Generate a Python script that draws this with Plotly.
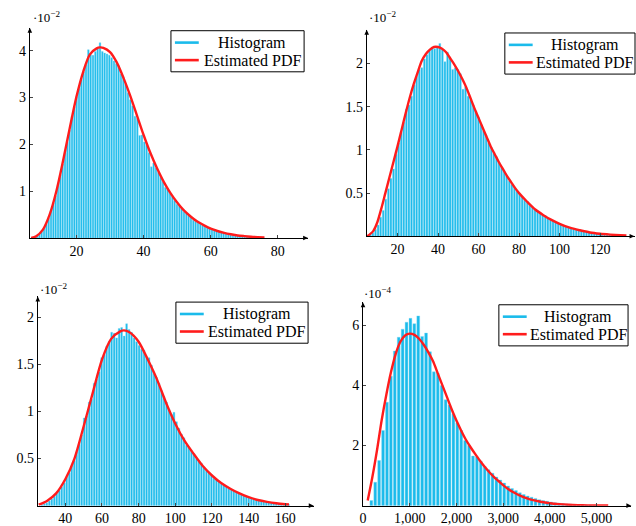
import plotly.graph_objects as go

# ---------------- data ----------------
# Panel 1  (density in units of 1e-2)
h1_start, h1_width = 6.85, 0.695
h1_counts = [0.01, 0.02, 0.05, 0.08, 0.13, 0.2, 0.3, 0.42, 0.58, 0.75,
             0.9, 1.12, 1.35, 1.58, 1.82, 2.05, 2.3, 2.6, 2.8, 3.02,
             3.2, 3.38, 3.55, 3.7, 4.02, 3.92, 3.9, 3.98, 4.05, 4.17,
             3.98, 3.95, 3.93, 3.9, 3.85, 3.78, 3.72, 3.68, 3.5, 3.44,
             3.28, 3.1, 2.95, 2.82, 2.6, 2.55, 2.19, 2.2, 2.05, 1.98,
             1.82, 1.52, 1.6, 1.5, 1.4, 1.3, 1.2, 1.08, 1.05, 0.95,
             0.88, 0.8, 0.72, 0.68, 0.62, 0.56, 0.52, 0.47, 0.44, 0.38,
             0.35, 0.32, 0.3, 0.27, 0.25, 0.22, 0.2, 0.18, 0.16, 0.15,
             0.13, 0.12, 0.11, 0.1, 0.09, 0.08, 0.07, 0.06, 0.055, 0.05,
             0.045, 0.04, 0.035, 0.03, 0.027, 0.024, 0.02, 0.018, 0.015, 0.012]
pdf1_x = [6.5, 8, 10, 12, 14, 16, 18, 20, 22, 24, 26, 27, 28, 30, 32, 34, 36, 38, 40,
          42, 44, 46, 48, 50, 52, 54, 56, 58, 60, 62, 64, 66, 68, 70, 72, 74, 76]
pdf1_y = [0.0, 0.04, 0.18, 0.5, 1.0, 1.65, 2.35, 3.02, 3.55, 3.92, 4.05, 4.07, 4.06, 3.97,
          3.75, 3.42, 3.04, 2.62, 2.2, 1.82, 1.49, 1.2, 0.96, 0.76, 0.59, 0.46, 0.35, 0.27,
          0.2, 0.15, 0.11, 0.08, 0.055, 0.04, 0.028, 0.02, 0.014]

# Panel 2  (units of 1e-2)
h2_start, h2_width = 6.6, 1.27
h2_counts = [0.02, 0.04, 0.08, 0.13, 0.22, 0.3, 0.43, 0.55, 0.67, 0.78,
             0.95, 1.08, 1.2, 1.32, 1.47, 1.52, 1.62, 1.75, 1.85, 1.93,
             1.95, 2.05, 2.1, 2.15, 2.17, 2.17, 2.19, 2.23, 2.16, 2.02,
             2.13, 2.05, 1.93, 1.95, 1.93, 1.88, 1.7, 1.73, 1.62, 1.58,
             1.52, 1.45, 1.38, 1.3, 1.22, 1.17, 1.08, 1.03, 0.96, 0.92,
             0.86, 0.8, 0.76, 0.7, 0.64, 0.6, 0.57, 0.52, 0.49, 0.46,
             0.42, 0.4, 0.36, 0.34, 0.31, 0.29, 0.27, 0.25, 0.24, 0.21,
             0.19, 0.18, 0.165, 0.15, 0.14, 0.125, 0.115, 0.105, 0.095, 0.085,
             0.078, 0.07, 0.064, 0.058, 0.052, 0.047, 0.042, 0.038, 0.034, 0.031,
             0.028, 0.025, 0.022, 0.02, 0.018, 0.016, 0.014, 0.012, 0.011, 0.01]
pdf2_x = [5, 8, 10, 12, 14, 16, 18, 20, 22, 24, 26, 28, 30, 32, 34, 36, 38, 40, 42, 44,
          46, 48, 50, 52, 54, 56, 58, 60, 62, 64, 66, 68, 70, 72, 74, 76, 78, 80, 84, 88,
          92, 96, 100, 105, 110, 115, 120, 125, 130, 133]
pdf2_y = [0.0, 0.06, 0.16, 0.32, 0.5, 0.68, 0.86, 1.04, 1.23, 1.42, 1.6, 1.76, 1.9, 2.03,
          2.11, 2.16, 2.19, 2.19, 2.17, 2.13, 2.06, 1.99, 1.91, 1.82, 1.72, 1.6, 1.48, 1.37,
          1.26, 1.15, 1.04, 0.95, 0.86, 0.78, 0.7, 0.63, 0.56, 0.5, 0.4, 0.31, 0.245, 0.19,
          0.145, 0.1, 0.07, 0.045, 0.03, 0.02, 0.012, 0.009]

# Panel 3  (units of 1e-2)
h3_start, h3_width = 27.2, 1.36
h3_counts = [0.01, 0.02, 0.03, 0.05, 0.07, 0.1, 0.13, 0.16, 0.2, 0.24,
             0.3, 0.35, 0.42, 0.48, 0.57, 0.65, 0.75, 0.93, 0.95, 1.1,
             1.13, 1.3, 1.34, 1.42, 1.57, 1.6, 1.69, 1.74, 1.84, 1.83,
             1.78, 1.88, 1.89, 1.8, 1.93, 1.87, 1.84, 1.78, 1.74, 1.7,
             1.66, 1.65, 1.58, 1.57, 1.49, 1.4, 1.36, 1.3, 1.22, 1.16,
             1.1, 1.02, 0.97, 0.99, 0.89, 0.82, 0.76, 0.72, 0.64, 0.62,
             0.58, 0.55, 0.5, 0.47, 0.45, 0.41, 0.37, 0.35, 0.33, 0.29,
             0.28, 0.26, 0.23, 0.22, 0.2, 0.18, 0.17, 0.155, 0.14, 0.13,
             0.12, 0.105, 0.1, 0.088, 0.08, 0.072, 0.065, 0.057, 0.052, 0.046,
             0.041, 0.036, 0.032, 0.028, 0.025, 0.021, 0.018, 0.016, 0.014, 0.012]
pdf3_x = [25.5, 30, 35, 40, 45, 50, 55, 60, 65, 70, 72, 75, 80, 85, 90, 95, 100, 105, 110,
          115, 120, 125, 130, 135, 140, 145, 150, 155, 160, 162]
pdf3_y = [0.01, 0.05, 0.13, 0.28, 0.5, 0.84, 1.2, 1.55, 1.77, 1.85, 1.86, 1.84, 1.74, 1.55,
          1.34, 1.09, 0.87, 0.69, 0.55, 0.42, 0.32, 0.24, 0.18, 0.13, 0.09, 0.06, 0.04,
          0.025, 0.015, 0.012]

# Panel 4  (units of 1e-4)
h4_start, h4_width = 178, 83.7
h4_counts = [0.17, 0.78, 1.5, 2.5, 3.44, 4.3, 5.14, 5.6, 5.87, 6.1,
             6.23, 6.05, 6.31, 5.63, 5.74, 5.12, 4.45, 4.4, 4.0, 3.52,
             3.35, 3.05, 2.75, 2.5, 2.17, 2.0, 1.65, 1.62, 1.48, 1.3,
             1.19, 1.08, 0.95, 0.85, 0.75, 0.65, 0.57, 0.5, 0.43, 0.37,
             0.32, 0.28, 0.24, 0.2, 0.17, 0.145, 0.12, 0.1, 0.085, 0.07,
             0.058, 0.048, 0.04, 0.033, 0.027, 0.022, 0.018, 0.015]
pdf4_x = [100, 200, 300, 400, 500, 600, 700, 800, 900, 1000, 1100, 1200, 1300, 1400, 1500,
          1600, 1700, 1800, 1900, 2000, 2100, 2200, 2300, 2400, 2500, 2600, 2700, 2800,
          2900, 3000, 3100, 3200, 3300, 3400, 3500, 3600, 3800, 4000, 4200, 4400, 4600,
          4800, 5000, 5250]
pdf4_y = [0.17, 0.95, 1.85, 2.85, 3.7, 4.45, 5.05, 5.45, 5.66, 5.72, 5.68, 5.55, 5.35, 5.1,
          4.8, 4.4, 4.0, 3.6, 3.2, 2.83, 2.5, 2.2, 1.95, 1.72, 1.5, 1.3, 1.12, 0.96, 0.82,
          0.68, 0.56, 0.46, 0.38, 0.31, 0.25, 0.2, 0.13, 0.08, 0.05, 0.03, 0.018, 0.01,
          0.006, 0.003]

# tick labels
x1_ticks = [20, 40, 60, 80]
y1_ticks = [1, 2, 3, 4]
x2_ticks = [20, 40, 60, 80, 100, 120]
y2_ticks = [0.5, 1, 1.5, 2]
x3_ticks = [40, 60, 80, 100, 120, 140, 160]
y3_ticks = [0.5, 1, 1.5, 2]
x4_ticks = [0, 1000, 2000, 3000, 4000, 5000]
x4_labels = ["0", "1,000", "2,000", "3,000", "4,000", "5,000"]
y4_ticks = [2, 4, 6]
scale_labels = ["·10<sup>−2</sup>", "·10<sup>−2</sup>", "·10<sup>−2</sup>", "·10<sup>−4</sup>"]
legend_labels = ["Histogram", "Estimated PDF"]

# ---------------- styling ----------------
W, H = 636, 526
FONT = "Liberation Serif"
CYAN = "#1ABBEB"
RED = "#FF1C1C"


def px(x):
    return x / W


def py(y):
    return 1 - y / H


panels = [
    dict(start=h1_start, width=h1_width, counts=h1_counts, px=pdf1_x, py=pdf1_y,
         xr=[6.1, 89], yr=[0, 4.49], xd=[26, 306], yd=[240.3, 28],
         xt=x1_ticks, xl=None, yt=y1_ticks, leg=(168, 31, 134), sc=(27, 17)),
    dict(start=h2_start, width=h2_width, counts=h2_counts, px=pdf2_x, py=pdf2_y,
         xr=[4.8, 137], yr=[0, 2.39], xd=[365, 634.5], yd=[238.6, 30],
         xt=x2_ticks, xl=None, yt=y2_ticks, leg=(504, 33.3, 131), sc=(365, 17)),
    dict(start=h3_start, width=h3_width, counts=h3_counts, px=pdf3_x, py=pdf3_y,
         xr=[25, 175.5], yr=[0, 2.22], xd=[34, 311.7], yd=[510.5, 299.3],
         xt=x3_ticks, xl=None, yt=y3_ticks, leg=(173, 305, 133), sc=(34, 292)),
    dict(start=h4_start, width=h4_width, counts=h4_counts, px=pdf4_x, py=pdf4_y,
         xr=[0, 5745], yr=[0, 6.76], xd=[361.3, 631.3], yd=[510.5, 305.3],
         xt=x4_ticks, xl=x4_labels, yt=y4_ticks, leg=(498, 307.7, 130), sc=(360, 296)),
]

fig = go.Figure()
layout = dict(width=W, height=H, margin=dict(l=0, r=0, t=0, b=0),
              paper_bgcolor="white", plot_bgcolor="white",
              bargap=0.28, showlegend=False,
              font=dict(family=FONT, size=13, color="black"))
annotations = []
shapes = []

for i, p in enumerate(panels):
    n = "" if i == 0 else str(i + 1)
    xa, ya = "x" + n, "y" + n
    fig.add_trace(go.Bar(x0=p["start"], dx=p["width"], y=p["counts"],
                         marker=dict(color=CYAN, line=dict(color="#7FD6F2", width=0.4)),
                         xaxis=xa, yaxis=ya, name=legend_labels[0], hoverinfo="skip"))
    fig.add_trace(go.Scatter(x=p["px"], y=p["py"], mode="lines", name=legend_labels[1],
                             line=dict(color=RED, width=2.4, shape="spline", smoothing=0.8),
                             xaxis=xa, yaxis=ya))
    xdom = [px(p["xd"][0]), px(p["xd"][1])]
    ydom = [py(p["yd"][0]), py(p["yd"][1])]
    xaxis = dict(domain=xdom, range=p["xr"], anchor=ya, showgrid=False, zeroline=False,
                 showline=True, linecolor="black", linewidth=1,
                 ticks="inside", ticklen=3, tickcolor="#444", tickwidth=1,
                 tickvals=p["xt"], tickfont=dict(family=FONT, size=14))
    if p["xl"] is not None:
        xaxis["ticktext"] = p["xl"]
    yaxis = dict(domain=ydom, range=p["yr"], anchor=xa, showgrid=False, zeroline=False,
                 showline=True, linecolor="black", linewidth=1,
                 ticks="inside", ticklen=3, tickcolor="#444", tickwidth=1,
                 tickvals=p["yt"], tickfont=dict(family=FONT, size=14))
    layout["xaxis" + n] = xaxis
    layout["yaxis" + n] = yaxis

    # axis arrow heads (small triangles, drawn in paper coords)
    X0, X1 = p["xd"]
    Yb, Yt = p["yd"]
    shapes.append(dict(type="path", xref="paper", yref="paper",
                       path=f"M {px(X1)} {py(Yb)} L {px(X1-5)} {py(Yb-2.3)} L {px(X1-5)} {py(Yb+2.3)} Z",
                       fillcolor="black", line=dict(width=0)))
    shapes.append(dict(type="path", xref="paper", yref="paper",
                       path=f"M {px(X0)} {py(Yt)} L {px(X0-2.3)} {py(Yt+5)} L {px(X0+2.3)} {py(Yt+5)} Z",
                       fillcolor="black", line=dict(width=0)))

    # legend box
    bx, by, bw = p["leg"]
    shapes.append(dict(type="rect", xref="paper", yref="paper",
                       x0=px(bx), x1=px(bx + bw), y0=py(by), y1=py(by + 41.5),
                       fillcolor="white", line=dict(color="black", width=1)))
    for r, (col, lab) in enumerate(zip([CYAN, RED], legend_labels)):
        ry = by + 12 + r * 17.7
        shapes.append(dict(type="line", xref="paper", yref="paper",
                           x0=px(bx + 4), x1=px(bx + 28), y0=py(ry), y1=py(ry),
                           line=dict(color=col, width=2.6)))
        annotations.append(dict(x=px(bx + 30 + (bw - 30) / 2), y=py(ry), xref="paper", yref="paper",
                                text=lab, showarrow=False, xanchor="center", yanchor="middle",
                                font=dict(family=FONT, size=16, color="black")))

    # scale multiplier
    annotations.append(dict(x=px(p["sc"][0]), y=py(p["sc"][1]), xref="paper", yref="paper",
                            text=scale_labels[i], showarrow=False, xanchor="left", yanchor="middle",
                            font=dict(family=FONT, size=13, color="black")))

layout["annotations"] = annotations
layout["shapes"] = shapes
fig.update_layout(**layout)
fig.write_html("out.html", config={"displayModeBar": False, "staticPlot": True},
               post_script="document.body.style.margin='0';document.body.style.padding='0';")
